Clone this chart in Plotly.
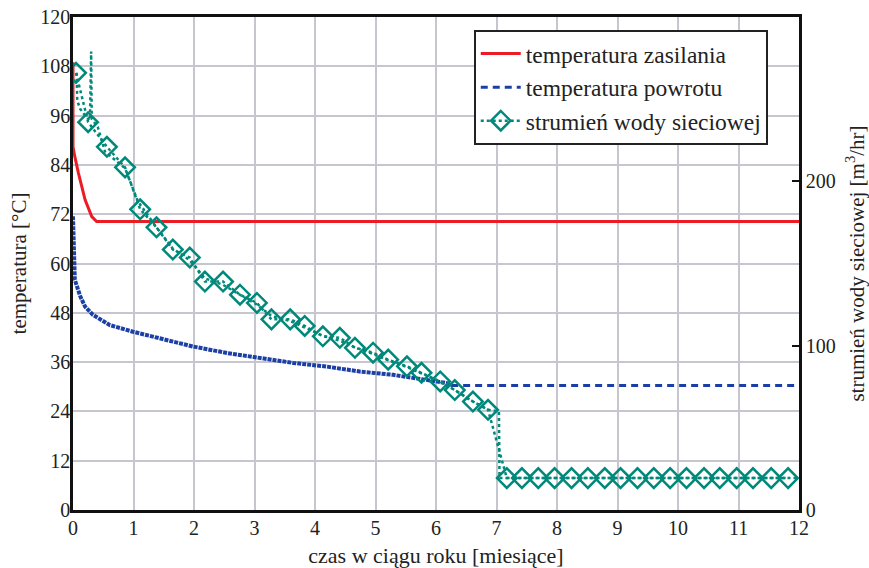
import plotly.graph_objects as go

# ---- data ----
supply_month = [0.0, 0.0, 0.03, 0.09, 0.2, 0.31, 0.39, 12.0]
supply_temp = [109.0, 88.4, 86.0, 82.0, 75.5, 71.4, 70.2, 70.2]

return_month = [0.0, 0.01, 0.03, 0.12, 0.2, 0.33, 0.61, 0.99, 1.44, 1.98, 2.55,
                3.09, 3.64, 4.2, 4.74, 5.29, 5.85, 6.18, 6.25]
return_temp = [71.5, 60.0, 56.0, 52.0, 49.5, 47.5, 45.0, 43.4, 41.8, 39.8, 38.2,
               37.0, 35.8, 34.9, 33.7, 32.9, 31.6, 30.9, 30.3]
return_flat_month = [6.25, 12.0]
return_flat_temp = [30.3, 30.3]

flow_month = [0.06, 0.07, 0.12, 0.2, 0.28, 0.3, 0.31, 0.41, 0.53, 0.86, 1.07, 1.38,
              1.65, 1.93, 2.18, 2.48, 2.76, 3.04, 3.28, 3.59, 3.83, 4.13, 4.41,
              4.66, 4.96, 5.21, 5.52, 5.76, 6.07, 6.31, 6.61, 6.86, 7.04, 7.05,
              7.17, 12.0]
flow_value = [266, 249, 244, 240, 237, 279, 238, 233, 218, 208, 188, 172,
              159, 152, 141, 137, 131, 125, 118, 115, 111, 106, 103,
              99, 95, 91, 87, 83, 78, 73, 66, 61, 60, 19.4,
              19.4, 19.4]

diamond_month = [0.05, 0.25, 0.56, 0.86, 1.11, 1.38, 1.65, 1.93, 2.18, 2.48, 2.76,
                 3.04, 3.28, 3.59, 3.83, 4.13, 4.41, 4.66, 4.96, 5.21, 5.52, 5.76,
                 6.07, 6.31, 6.61, 6.86,
                 7.17, 7.42, 7.69, 7.96, 8.24, 8.51, 8.79, 9.05, 9.33, 9.60, 9.87,
                 10.14, 10.43, 10.69, 10.97, 11.24, 11.54, 11.82]
diamond_value = [266, 236, 221, 208.5, 183, 172, 158.5, 153.6, 139, 139, 131,
                 126, 116, 116, 112, 105.7, 104.8, 98.7, 95.7, 91.5, 87.4, 83.5,
                 78.2, 73, 66, 61,
                 19.4, 19.4, 19.4, 19.4, 19.4, 19.4, 19.4, 19.4, 19.4, 19.4, 19.4,
                 19.4, 19.4, 19.4, 19.4, 19.4, 19.4, 19.4]

x_ticks = list(range(0, 13))
y_ticks = list(range(0, 121, 12))
y2_ticks = [0, 100, 200]

RED = "#ec1c24"
BLUE = "#1c3fa6"
TEAL = "#00897a"
FONT = "Liberation Serif"

fig = go.Figure()

fig.add_trace(go.Scatter(x=supply_month, y=supply_temp, mode="lines",
                         line=dict(color=RED, width=3),
                         name="temperatura zasilania"))
fig.add_trace(go.Scatter(x=return_flat_month, y=return_flat_temp, mode="lines",
                         line=dict(color=BLUE, width=3, dash="7px,5px"),
                         name="temperatura powrotu"))
fig.add_trace(go.Scatter(x=return_month, y=return_temp, mode="lines",
                         line=dict(color=BLUE, width=4, dash="4px,1px"),
                         showlegend=False))
fig.add_trace(go.Scatter(x=flow_month, y=flow_value, mode="lines", yaxis="y2",
                         line=dict(color=TEAL, width=2.5, dash="dot"),
                         showlegend=False))
fig.add_trace(go.Scatter(x=diamond_month, y=diamond_value, mode="lines+markers",
                         yaxis="y2",
                         line=dict(color=TEAL, width=2.5, dash="dot"),
                         marker=dict(symbol="diamond-open", size=15, color=TEAL,
                                     line=dict(width=2.5, color=TEAL)),
                         name="strumień wody sieciowej"))

fig.update_layout(
    width=869, height=568,
    margin=dict(l=73, r=70, t=17, b=58),
    paper_bgcolor="white", plot_bgcolor="white",
    font=dict(family=FONT, size=20, color="#222"),
    showlegend=True,
    legend=dict(x=0.552, y=0.974, xanchor="left", yanchor="top",
                bgcolor="white", bordercolor="#222", borderwidth=2,
                font=dict(family=FONT, size=23.5, color="#222"),
                tracegroupgap=0, itemwidth=40),
    xaxis=dict(range=[0, 12], tickvals=x_ticks, showgrid=True,
               gridcolor="#c6c6ce", gridwidth=1.5, showline=True,
               linecolor="#111", linewidth=2.5, mirror=True, ticks="",
               zeroline=False, automargin=False, ticklabelstandoff=-2,
               tickfont=dict(family=FONT, size=20),
               title=dict(text="czas w ciągu roku [miesiące]", standoff=27,
                          font=dict(family=FONT, size=22))),
    yaxis=dict(range=[0, 120], tickvals=y_ticks, showgrid=True,
               gridcolor="#c6c6ce", gridwidth=1.5, showline=True,
               linecolor="#111", linewidth=2.5, ticks="", zeroline=False,
               automargin=False, ticklabelstandoff=-4,
               tickfont=dict(family=FONT, size=20),
               title=dict(text="temperatura [°C]", standoff=8,
                          font=dict(family=FONT, size=21))),
    yaxis2=dict(range=[0, 300], tickvals=y2_ticks, overlaying="y", side="right",
                showgrid=False, showline=True, linecolor="#111", linewidth=2.5,
                ticks="inside", ticklen=7, tickwidth=2, tickcolor="#111",
                zeroline=False, automargin=False,
                tickfont=dict(family=FONT, size=20),
                title=dict(text="strumień wody sieciowej [m<sup>3</sup>/hr]",
                           standoff=16, font=dict(family=FONT, size=21))),
)

fig.write_html("out.html")
